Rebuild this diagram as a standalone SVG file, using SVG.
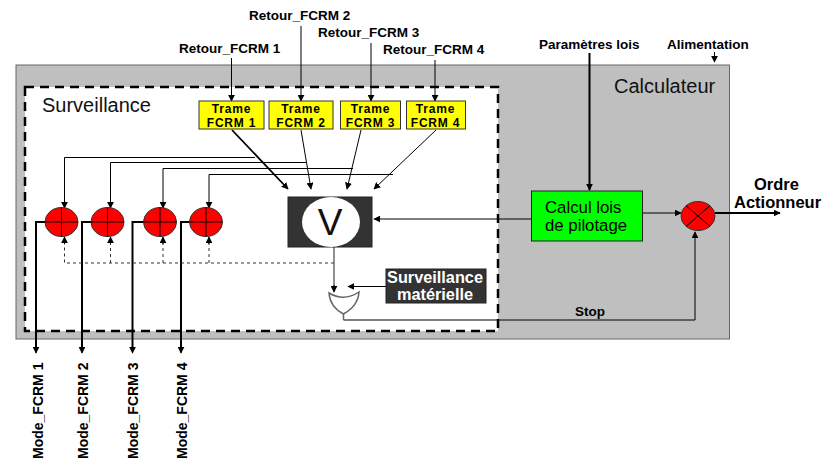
<svg xmlns="http://www.w3.org/2000/svg" width="833" height="472" viewBox="0 0 833 472">
<style>
text{font-family:"Liberation Sans",Arial,sans-serif;fill:#000}
.b{font-weight:bold;font-size:13.500px}
.mo{font-weight:bold;font-size:14px}
.t{font-weight:bold;font-size:12px;letter-spacing:.8px;text-anchor:middle}
.n{font-size:20px;fill:#111}
.g{font-size:16.800px}
.o{font-weight:bold;font-size:16.500px}
.m{font-weight:bold;font-size:16.300px;fill:#fff;text-anchor:middle}
.l{fill:none;stroke:#000;stroke-width:1;marker-end:url(#a)}
.th{fill:none;stroke:#000;stroke-width:2}
.gr{fill:none;stroke:#555;stroke-width:1.300}
.d{fill:none;stroke:#333;stroke-width:1;stroke-dasharray:3 3}
.red{fill:#f00;stroke:#333;stroke-width:1}
.cross{stroke:#000;stroke-width:1;fill:none}
.y{fill:#ff0;stroke:#333;stroke-width:1}
</style>
<defs>
<marker id="a" viewBox="0 0 10 10" refX="9" refY="5" markerWidth="7" markerHeight="7" markerUnits="userSpaceOnUse" orient="auto"><path d="M0 0L10 5L0 10z" fill="#000"/></marker>
</defs>
<g id="calculateur">
<rect x="16" y="65" width="713.500" height="274" fill="#bfbfbf" stroke="#666" stroke-width="1"/>
<text class="n" x="614" y="93">Calculateur</text>
</g>
<g id="surveillance">
<rect x="25" y="87" width="473" height="244" fill="#fff" stroke="#000" stroke-width="2.500" stroke-dasharray="9 6"/>
<text class="n" x="42" y="112">Surveillance</text>
</g>
<g id="connecteurs">
<path class="l" d="M231.500 58V101"/>
<path class="l" d="M301 26V101"/>
<path class="l" d="M371 43V101"/>
<path class="l" d="M435 60V101"/>
<path class="l" style="stroke-width:1.800" d="M232 130L288 189"/>
<path class="l" d="M301 130L311 189"/>
<path class="l" d="M361 130L347 189"/>
<path class="l" d="M436 130L374 189"/>
<path class="l" d="M255 157.500H64.500V208"/>
<path class="l" d="M307 162.500H110.500V208"/>
<path class="l" d="M353 168.500H163V208"/>
<path class="l" d="M393 174.500H209V208"/>
<path class="th" d="M45 222H36V347"/>
<path class="th" d="M91 222H82V347"/>
<path class="th" d="M144 222H132.500V347"/>
<path class="th" d="M190 222H181V347"/>
<path class="l" d="M36 345V353"/>
<path class="l" d="M82 345V353"/>
<path class="l" d="M132.500 345V353"/>
<path class="l" d="M181 345V353"/>
<path class="d" d="M334 263H64.500V243M110.500 263V243M163 263V243M209 263V243"/>
<path class="l" d="M64.500 244V237"/><path class="l" d="M110.500 244V237"/><path class="l" d="M163 244V237"/><path class="l" d="M209 244V237"/>
<path class="l" d="M531 219H374"/>
<path class="gr" d="M334 247V287"/><path class="l" d="M334 285V292"/>
<path class="l" d="M386 286.500H348"/>
<path class="l" d="M643 213H681"/>
<path class="l" style="stroke-width:1.800" d="M715 213H780"/>
<path class="l" d="M343.500 320H695V232"/>
<path class="l" style="stroke-width:2" d="M589.500 53V190"/>
<path class="l" d="M714.500 52V62"/>
</g>
<g id="retour1"><text class="b" x="179" y="53">Retour_FCRM 1</text></g>
<g id="retour2"><text class="b" x="249" y="19.500">Retour_FCRM 2</text></g>
<g id="retour3"><text class="b" x="318" y="36.500">Retour_FCRM 3</text></g>
<g id="retour4"><text class="b" x="383" y="53.500">Retour_FCRM 4</text></g>
<g id="trame1"><rect class="y" x="199" y="101" width="65" height="28"/><text class="t"><tspan x="231.500" y="113">Trame</tspan><tspan x="231.500" y="127">FCRM 1</tspan></text></g>
<g id="trame2"><rect class="y" x="269" y="101" width="64" height="28"/><text class="t"><tspan x="301" y="113">Trame</tspan><tspan x="301" y="127">FCRM 2</tspan></text></g>
<g id="trame3"><rect class="y" x="340.500" y="101" width="60" height="28"/><text class="t"><tspan x="370.500" y="113">Trame</tspan><tspan x="370.500" y="127">FCRM 3</tspan></text></g>
<g id="trame4"><rect class="y" x="406.500" y="101" width="59" height="28"/><text class="t"><tspan x="435.500" y="113">Trame</tspan><tspan x="435.500" y="127">FCRM 4</tspan></text></g>
<g id="somme1"><ellipse class="red" cx="61.500" cy="222" rx="16.500" ry="14.500"/><path class="cross" d="M45 222H78M61.500 207.500V236.500"/></g>
<g id="somme2"><ellipse class="red" cx="107.500" cy="222" rx="16.500" ry="14.500"/><path class="cross" d="M91 222H124M107.500 207.500V236.500"/></g>
<g id="somme3"><ellipse class="red" cx="160" cy="222" rx="16.500" ry="14.500"/><path class="cross" d="M143.500 222H176.500M160 207.500V236.500"/></g>
<g id="somme4"><ellipse class="red" cx="206" cy="222" rx="16.500" ry="14.500"/><path class="cross" d="M189.500 222H222.500M206 207.500V236.500"/></g>
<g id="voteur">
<rect x="288" y="197" width="84" height="50" fill="#333" stroke="#222"/>
<ellipse cx="331" cy="222" rx="29" ry="25" fill="#fff"/>
<text x="330" y="235" font-size="37" text-anchor="middle" style="fill:#111">V</text>
</g>
<g id="materielle">
<rect x="386" y="269" width="100" height="34" fill="#333" stroke="#222"/>
<text class="m"><tspan x="435" y="283">Surveillance</tspan><tspan x="435" y="300">matérielle</tspan></text>
</g>
<g id="ou">
<path d="M329 293Q344 302 359 292Q358 306 343.500 314Q330 307 329 293Z" fill="#fff" stroke="#666" stroke-width="1.500"/>
<path d="M343.500 314V320" stroke="#666" stroke-width="1.500"/>
</g>
<g id="calcul">
<rect x="531.500" y="191" width="111" height="50" fill="#0f0" stroke="#222"/>
<text class="g"><tspan x="545" y="213">Calcul lois</tspan><tspan x="545" y="231">de pilotage</tspan></text>
</g>
<g id="melangeur">
<ellipse class="red" cx="698" cy="216" rx="17" ry="14.500"/>
<path class="cross" d="M686 205.500L710 226.500M710 205.500L686 226.500"/>
</g>
<g id="labels">
<text class="b" x="539" y="48.500">Paramètres lois</text>
<text class="b" x="667" y="48.500">Alimentation</text>
<text class="b" x="575" y="316">Stop</text>
<text class="o"><tspan x="754" y="190">Ordre</tspan><tspan x="734" y="207.500">Actionneur</tspan></text>
</g>
<g id="mode1"><text class="mo" transform="translate(43 459) rotate(-90)">Mode_FCRM 1</text></g>
<g id="mode2"><text class="mo" transform="translate(88 459) rotate(-90)">Mode_FCRM 2</text></g>
<g id="mode3"><text class="mo" transform="translate(138 459) rotate(-90)">Mode_FCRM 3</text></g>
<g id="mode4"><text class="mo" transform="translate(187 459) rotate(-90)">Mode_FCRM 4</text></g>
</svg>
